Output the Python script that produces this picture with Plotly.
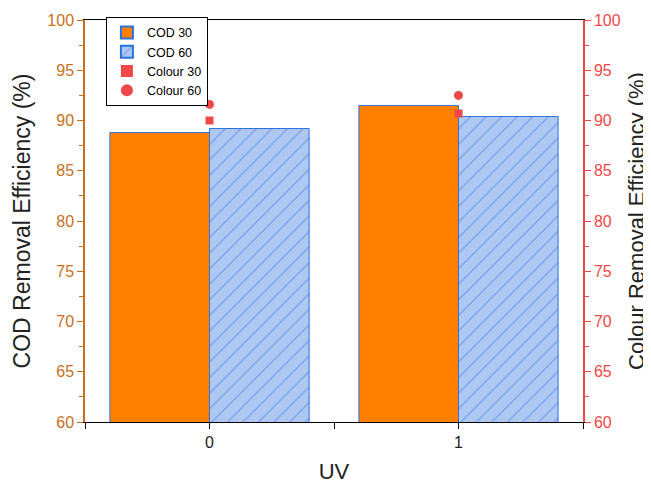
import plotly.graph_objects as go

categories = [0, 1]
cod30 = [88.8, 91.5]
cod60 = [89.2, 90.4]
colour30 = [90.0, 90.7]
colour60 = [91.6, 92.5]

ORANGE_AX = "#C8701E"
RED_AX = "#F04848"
FONT = "Liberation Sans, Arial, sans-serif"

fig = go.Figure()
fig.add_trace(go.Bar(x=categories, y=cod30, name="COD 30",
                     marker=dict(color="#FF8000", line=dict(color="#2A72E0", width=1)),
                     yaxis="y"))
fig.add_trace(go.Bar(x=categories, y=cod60, name="COD 60",
                     marker=dict(color="#AEC8F2", line=dict(color="#2A72E0", width=1),
                                 pattern=dict(shape="/", fgcolor="#3A7BE6", bgcolor="#AEC8F2",
                                              size=11, solidity=0.12, fillmode="overlay")),
                     yaxis="y"))
fig.add_trace(go.Scatter(x=categories, y=colour30, name="Colour 30", mode="markers",
                         marker=dict(symbol="square", size=8, color=RED_AX), yaxis="y2"))
fig.add_trace(go.Scatter(x=categories, y=colour60, name="Colour 60", mode="markers",
                         marker=dict(symbol="circle", size=9, color=RED_AX), yaxis="y2"))

fig.update_layout(
    width=643, height=476,
    margin=dict(l=77, r=68, t=12, b=62, autoexpand=False),
    paper_bgcolor="white", plot_bgcolor="white",
    font=dict(family=FONT, size=16, color="#222"),
    barmode="group", bargap=0.2, bargroupgap=0,
    showlegend=True,
    legend=dict(x=0.042, y=1.008, xanchor="left", yanchor="top",
                bgcolor="white", bordercolor="black", borderwidth=1,
                font=dict(size=12.5, color="black"), tracegroupgap=0,
                itemsizing="constant", itemwidth=30),
    xaxis=dict(range=[-0.5, 1.5], tickmode="array", automargin=False,
               tickvals=[-0.5, 0, 0.5, 1, 1.5], ticktext=["", "0", "", "1", ""],
               ticks="outside", ticklen=6, tickcolor="black",
               showline=True, linecolor="black", linewidth=1, mirror=True,
               showgrid=False, zeroline=False,
               tickfont=dict(size=16, color="#222"),
               title=dict(text="UV", font=dict(size=22, color="#222"), standoff=14)),
    yaxis=dict(range=[60, 100], dtick=5, ticks="outside", ticklen=6, automargin=False,
               tickcolor=ORANGE_AX, showline=True, linecolor=ORANGE_AX, linewidth=1.5,
               showgrid=False, zeroline=False,
               tickfont=dict(size=16, color=ORANGE_AX),
               minor=dict(dtick=2.5, ticks="outside", ticklen=4, tickcolor=ORANGE_AX),
               title=dict(text="COD Removal Efficiency (%)", font=dict(size=23, color="#222"),
                          standoff=10)),
    yaxis2=dict(range=[60, 100], dtick=5, overlaying="y", side="right", automargin=False,
                ticks="outside", ticklen=6, tickcolor=RED_AX,
                showline=True, linecolor=RED_AX, linewidth=1.5,
                showgrid=False, zeroline=False,
                tickfont=dict(size=16, color=RED_AX),
                minor=dict(dtick=2.5, ticks="outside", ticklen=4, tickcolor=RED_AX),
                title=dict(text="Colour Removal Efficiency (%)", font=dict(size=22, color="#222"),
                           standoff=9)),
)

fig.write_html("out.html")
